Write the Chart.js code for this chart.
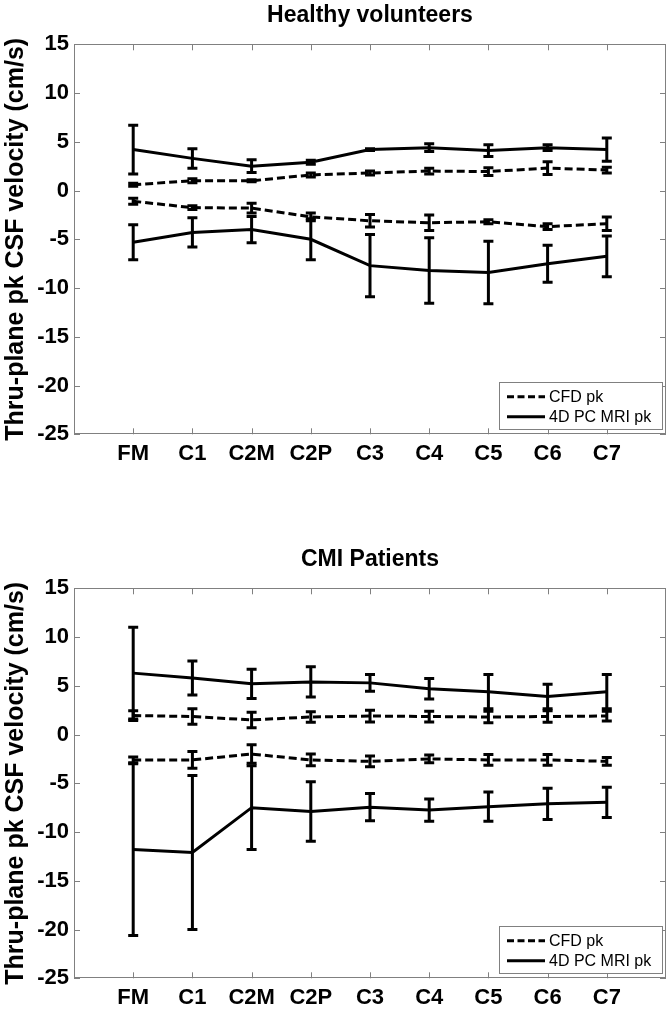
<!DOCTYPE html>
<html>
<head>
<meta charset="utf-8">
<script src="https://cdn.jsdelivr.net/npm/chart.js@4"></script>
<style>
  body { margin: 0; background: #fff; width: 672px; height: 1013px; overflow: hidden; }
  .panel { position: absolute; left: 0; width: 672px; }
</style>
</head>
<body>
<div class="panel" style="top:0"><canvas id="chartHealthy" width="672" height="490"></canvas></div>
<div class="panel" style="top:544px"><canvas id="chartCMI" width="672" height="469"></canvas></div>
<script>
const levels = ["FM", "C1", "C2M", "C2P", "C3", "C4", "C5", "C6", "C7"];
const yMin = -25, yMax = 15, yStep = 5;

// Healthy volunteers
const hvMriPos = [4.2, 3.3, 2.5, 2.9, 4.2, 4.4, 4.1, 4.4, 4.2];
const hvMriPosErr = [2.5, 1.0, 0.65, 0.2, 0.1, 0.4, 0.6, 0.3, 1.2];
const hvCfdPos = [0.6, 1.0, 1.0, 1.6, 1.8, 2.0, 1.95, 2.3, 2.1];
const hvCfdPosErr = [0.15, 0.2, 0.1, 0.2, 0.2, 0.3, 0.4, 0.65, 0.3];
const hvCfdNeg = [-1.1, -1.75, -1.8, -2.7, -3.1, -3.3, -3.2, -3.7, -3.4];
const hvCfdNegErr = [0.3, 0.2, 0.5, 0.4, 0.65, 0.8, 0.2, 0.3, 0.7];
const hvMriNeg = [-5.3, -4.3, -4.0, -5.0, -7.7, -8.2, -8.4, -7.5, -6.75];
const hvMriNegErr = [1.8, 1.5, 1.35, 2.1, 3.2, 3.35, 3.2, 1.9, 2.1];

// CMI patients
const cmiMriPos = [6.3, 5.8, 5.2, 5.4, 5.3, 4.7, 4.4, 3.9, 4.4];
const cmiMriPosErr = [4.7, 1.75, 1.5, 1.55, 0.85, 1.05, 1.75, 1.25, 1.75];
const cmiCfdPos = [1.95, 1.85, 1.5, 1.8, 1.9, 1.85, 1.8, 1.85, 1.9];
const cmiCfdPosErr = [0.5, 0.8, 0.8, 0.55, 0.6, 0.55, 0.6, 0.6, 0.5];
const cmiCfdNeg = [-2.6, -2.6, -2.0, -2.6, -2.75, -2.5, -2.6, -2.6, -2.75];
const cmiCfdNegErr = [0.3, 0.85, 0.95, 0.6, 0.55, 0.4, 0.55, 0.55, 0.4];
const cmiMriNeg = [-11.8, -12.1, -7.5, -7.9, -7.45, -7.75, -7.4, -7.1, -6.95];
const cmiMriNegErr = [8.8, 7.9, 4.3, 3.05, 1.4, 1.15, 1.5, 1.6, 1.55];

const FONT = "'Liberation Sans', Arial, Helvetica, sans-serif";
const CFD_DASH = [8, 4];

// error bars, drawn through the chart scales
const errorBars = {
  id: "errorBars",
  afterDatasetsDraw(chart) {
    const { ctx } = chart;
    const x = chart.scales.x, y = chart.scales.y;
    ctx.save();
    ctx.strokeStyle = "#000";
    ctx.lineWidth = 3;
    ctx.setLineDash([]);
    chart.data.datasets.forEach((ds) => {
      if (!ds.err) return;
      ds.data.forEach((p, i) => {
        const px = x.getPixelForValue(p.x);
        const top = y.getPixelForValue(p.y + ds.err[i]);
        const bot = y.getPixelForValue(p.y - ds.err[i]);
        ctx.beginPath();
        ctx.moveTo(px, top); ctx.lineTo(px, bot);
        ctx.moveTo(px - 5, top); ctx.lineTo(px + 5, top);
        ctx.moveTo(px - 5, bot); ctx.lineTo(px + 5, bot);
        ctx.stroke();
      });
    });
    ctx.restore();
  }
};

// matlab style box with inward ticks
const frame = {
  id: "frame",
  beforeDatasetsDraw(chart) {
    const { ctx, chartArea: a } = chart;
    const x = chart.scales.x, y = chart.scales.y;
    ctx.save();
    ctx.strokeStyle = "#808080";
    ctx.lineWidth = 1;
    ctx.strokeRect(Math.round(a.left) + 0.5, Math.round(a.top) + 0.5, Math.round(a.width) - 1, Math.round(a.height) - 1);
    ctx.beginPath();
    x.ticks.forEach((t) => {
      const px = Math.round(x.getPixelForValue(t.value)) + 0.5;
      ctx.moveTo(px, a.top); ctx.lineTo(px, a.top + 6);
      ctx.moveTo(px, a.bottom); ctx.lineTo(px, a.bottom - 6);
    });
    y.ticks.forEach((t) => {
      const py = Math.round(y.getPixelForValue(t.value)) + 0.5;
      ctx.moveTo(a.left, py); ctx.lineTo(a.left + 6, py);
      ctx.moveTo(a.right, py); ctx.lineTo(a.right - 6, py);
    });
    ctx.stroke();
    ctx.restore();
  }
};

// legend box in the lower right corner of the axes
const boxLegend = {
  id: "boxLegend",
  afterDraw(chart) {
    const { ctx, chartArea: a } = chart;
    const w = 163, h = 47;
    const bx = a.right - 4 - w, by = a.bottom - 5 - h;
    ctx.save();
    ctx.fillStyle = "#fff";
    ctx.fillRect(bx, by, w, h);
    ctx.strokeStyle = "#808080";
    ctx.lineWidth = 1;
    ctx.strokeRect(Math.round(bx) + 0.5, Math.round(by) + 0.5, w, h);
    const items = [{ label: "CFD pk", dash: [7, 3.5] }, { label: "4D PC MRI pk", dash: [] }];
    ctx.font = "16px " + FONT;
    ctx.textBaseline = "middle";
    ctx.fillStyle = "#000";
    items.forEach((it, i) => {
      const ly = by + 14.5 + i * 20;
      ctx.strokeStyle = "#000";
      ctx.lineWidth = 3;
      ctx.setLineDash(it.dash);
      ctx.beginPath();
      ctx.moveTo(bx + 8, ly); ctx.lineTo(bx + 46, ly);
      ctx.stroke();
      ctx.fillText(it.label, bx + 50, ly + 1);
    });
    ctx.restore();
  }
};

function series(vals, err, dashed) {
  return {
    data: vals.map((v, i) => ({ x: i + 1, y: v })),
    err: err,
    borderColor: "#000",
    borderWidth: 3,
    borderDash: dashed ? CFD_DASH : [],
    pointRadius: 0,
    tension: 0,
    fill: false
  };
}

function makePanel(id, title, xAxisHeight, sets) {
  const ctx = document.getElementById(id).getContext("2d");
  return new Chart(ctx, {
    type: "line",
    data: {
      datasets: [
        series(sets.mriPos, sets.mriPosErr, false),
        series(sets.cfdPos, sets.cfdPosErr, true),
        series(sets.cfdNeg, sets.cfdNegErr, true),
        series(sets.mriNeg, sets.mriNegErr, false)
      ]
    },
    options: {
      responsive: false,
      animation: false,
      devicePixelRatio: 1,
      layout: { padding: { left: 0, right: 6, top: 0, bottom: 0 } },
      plugins: {
        legend: { display: false },
        tooltip: { enabled: false },
        title: {
          display: true,
          text: title,
          color: "#000",
          fullSize: false,
          font: { family: FONT, size: 23, weight: "bold" },
          padding: { top: 2, bottom: 14.7 }
        }
      },
      scales: {
        x: {
          type: "linear",
          min: 0,
          max: 10,
          grid: { display: false, drawTicks: false },
          border: { display: false },
          afterBuildTicks: (s) => { s.ticks = levels.map((_, i) => ({ value: i + 1 })); },
          afterFit: (s) => { s.height = xAxisHeight; },
          ticks: {
            autoSkip: false,
            maxRotation: 0,
            padding: 6,
            color: "#000",
            font: { family: FONT, size: 22, weight: "bold" },
            callback: (v) => levels[v - 1] || ""
          }
        },
        y: {
          min: yMin,
          max: yMax,
          grid: { display: false, drawTicks: false },
          border: { display: false },
          afterFit: (s) => { s.width = 74; },
          ticks: {
            stepSize: yStep,
            padding: 5,
            color: "#000",
            font: { family: FONT, size: 22, weight: "bold" }
          },
          title: {
            display: true,
            text: "Thru-plane pk CSF velocity (cm/s)",
            color: "#000",
            font: { family: FONT, size: 25, weight: "bold" },
            padding: { top: 1, bottom: 0 }
          }
        }
      }
    },
    plugins: [frame, errorBars, boxLegend]
  });
}

makePanel("chartHealthy", "Healthy volunteers", 55.7, {
  mriPos: hvMriPos, mriPosErr: hvMriPosErr,
  cfdPos: hvCfdPos, cfdPosErr: hvCfdPosErr,
  cfdNeg: hvCfdNeg, cfdNegErr: hvCfdNegErr,
  mriNeg: hvMriNeg, mriNegErr: hvMriNegErr
});

makePanel("chartCMI", "CMI Patients", 34.7, {
  mriPos: cmiMriPos, mriPosErr: cmiMriPosErr,
  cfdPos: cmiCfdPos, cfdPosErr: cmiCfdPosErr,
  cfdNeg: cmiCfdNeg, cfdNegErr: cmiCfdNegErr,
  mriNeg: cmiMriNeg, mriNegErr: cmiMriNegErr
});
</script>
</body>
</html>
